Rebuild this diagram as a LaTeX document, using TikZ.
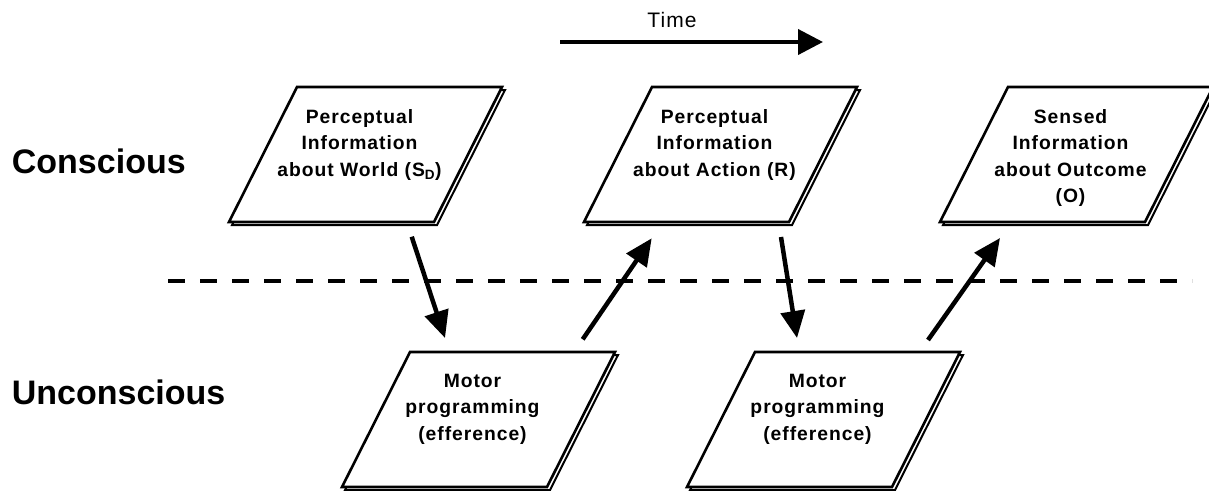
\documentclass[tikz,border=0pt]{standalone}
\usepackage{fontspec}
\setmainfont{Liberation Sans}
\newfontfamily\spacedfont[LetterSpace=5]{Liberation Sans}
\usetikzlibrary{arrows.meta}
\tikzset{
  frontline/.style={draw=black, fill=white, line width=2.6pt, line join=miter},
  shadowline/.style={draw=black, fill=white, line width=2pt, line join=miter},
  boxtext/.style={font=\spacedfont\bfseries\fontsize{19.3}{26.5}\selectfont, align=center, inner sep=0pt, anchor=north},
  sidelabel/.style={font=\bfseries\fontsize{34}{38}\selectfont, inner sep=0pt, anchor=base west},
  flowarrow/.style={line width=4.5pt, -{Triangle[length=27pt, width=24pt]}},
  timearrow/.style={line width=4pt, -{Triangle[length=25pt, width=25pt]}},
  divider/.style={line width=4pt, dash pattern=on 17pt off 15pt},
}
\newcommand\parashape[2]{%
  \path[shadowline] (#1-65,#2+138) -- ++(205,0) -- ++(68,-135) -- ++(-205,0) -- cycle;
  \path[frontline] (#1-68,#2+135) -- ++(205,0) -- ++(68,-135) -- ++(-205,0) -- cycle;
}
\begin{document}
\begin{tikzpicture}[x=1pt,y=-1pt]
\useasboundingbox (0,0) rectangle (1209,490);
% time
\node[font=\spacedfont\fontsize{21}{24}\selectfont, inner sep=0pt, anchor=base] (time) at (672,27.3) {Time};
\coordinate (t0) at (560,42);
\coordinate (t1) at (823,42);
\draw[timearrow] (t0) -- (t1);
% side labels
\node[sidelabel] (cons) at (11.7,173.3) {Conscious};
\node[sidelabel] (uncons) at (11.7,404) {Unconscious};
% divider
\coordinate (d0) at (168,281);
\coordinate (d1) at (1192,281);
\draw[divider] (d0) -- (d1);
% boxes
\parashape{297}{87}
\node[boxtext] (p1) at (359.5,109) {Perceptual\\Information\\about World (S\textsubscript{D})};
\parashape{652}{87}
\node[boxtext] (p2) at (714.5,109) {Perceptual\\Information\\about Action (R)};
\parashape{1008}{87}
\node[boxtext] (p3) at (1070.5,109) {Sensed\\Information\\about Outcome\\(O)};
\parashape{410}{352}
\node[boxtext] (p4) at (472.5,374) {Motor\\programming\\(efference)};
\parashape{755}{352}
\node[boxtext] (p5) at (817.5,374) {Motor\\programming\\(efference)};
% arrows
\coordinate (a1s) at (411.7,236.7);
\coordinate (a1e) at (445,338);
\coordinate (a2s) at (582.7,339.3);
\coordinate (a2e) at (651.7,238.3);
\coordinate (a3s) at (781,237);
\coordinate (a3e) at (797,338);
\coordinate (a4s) at (928,340);
\coordinate (a4e) at (1000,238);
\draw[flowarrow] (a1s) -- (a1e);
\draw[flowarrow] (a2s) -- (a2e);
\draw[flowarrow] (a3s) -- (a3e);
\draw[flowarrow] (a4s) -- (a4e);
\end{tikzpicture}
\end{document}
